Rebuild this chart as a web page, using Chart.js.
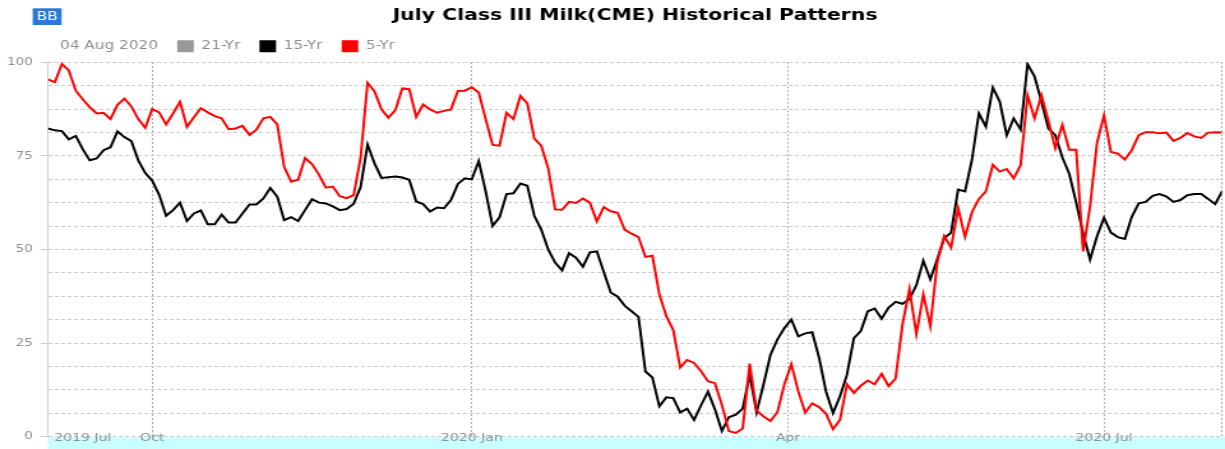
<!DOCTYPE html>
<html>
<head>
<meta charset="utf-8">
<script src="https://cdn.jsdelivr.net/npm/chart.js@4"></script>
<style>
  html, body { margin: 0; padding: 0; background: #fff; }
</style>
</head>
<body>
<!-- the chart is drawn 960 wide and shown stretched to 1225, like the source picture -->
<canvas id="chart" width="960" height="449" style="display:block;width:1225px;height:449px"></canvas>
<script>
const chartTitle = 'July Class III Milk(CME) Historical Patterns';
const asOf = '04 Aug 2020';

// one value every 2 days, day 0 = 01 Sep 2019, last = 04 Aug 2020
const dayStep = 2;

const yr21 = [];

const yr15 = [
  82.3, 81.8, 81.6, 79.4, 80.3, 76.8, 73.8, 74.3, 76.5, 77.3,
  81.5, 80.0, 78.9, 73.8, 70.4, 68.4, 64.6, 59.0, 60.5, 62.5,
  57.6, 59.6, 60.4, 56.7, 56.7, 59.3, 57.2, 57.2, 59.6, 62.0,
  62.0, 63.6, 66.4, 64.1, 57.8, 58.6, 57.6, 60.5, 63.4, 62.5,
  62.3, 61.5, 60.5, 60.8, 62.2, 66.7, 78.0, 73.0, 69.1, 69.3,
  69.5, 69.2, 68.6, 62.8, 62.1, 60.1, 61.2, 61.0, 63.2, 67.5,
  69.0, 68.7, 73.6, 65.5, 56.3, 58.6, 64.8, 65.0, 67.6, 67.0,
  59.0, 55.3, 50.0, 46.5, 44.4, 49.0, 47.8, 45.4, 49.2, 49.5,
  44.0, 38.5, 37.4, 35.0, 33.5, 32.0, 17.4, 15.8, 8.1, 10.5,
  10.3, 6.5, 7.5, 4.5, 8.4, 12.0, 7.3, 1.5, 5.2, 5.9,
  7.5, 16.5, 6.5, 14.0, 21.9, 26.0, 29.0, 31.3, 26.8, 27.6,
  27.9, 21.0, 12.0, 6.3, 10.8, 16.5, 26.3, 28.2, 33.5, 34.2,
  31.5, 34.5, 36.0, 35.5, 36.7, 40.5, 47.0, 42.0, 47.4, 53.0,
  54.5, 66.0, 65.5, 74.0, 86.3, 82.8, 93.2, 89.5, 80.5, 85.0,
  82.0, 99.5, 96.2, 89.5, 82.3, 80.5, 74.6, 70.2, 62.5, 54.2,
  47.3, 53.5, 58.5, 54.5, 53.3, 52.8, 58.7, 62.3, 62.7, 64.3,
  64.8, 64.1, 62.7, 63.2, 64.5, 64.8, 64.8, 63.5, 62.1, 65.5
];

const yr5 = [
  95.4, 94.7, 99.5, 97.8, 92.4, 90.1, 88.0, 86.3, 86.5, 84.8,
  88.6, 90.3, 88.2, 84.8, 82.5, 87.5, 86.6, 83.4, 86.3, 89.4,
  82.7, 85.3, 87.7, 86.6, 85.6, 85.0, 82.1, 82.3, 83.0, 80.6,
  82.0, 85.0, 85.4, 83.4, 72.0, 68.1, 68.6, 74.4, 72.8, 70.0,
  66.5, 66.8, 64.2, 63.7, 64.5, 74.5, 94.5, 92.2, 87.4, 85.2,
  87.2, 93.0, 92.8, 85.4, 88.7, 87.4, 86.5, 87.0, 87.4, 92.3,
  92.4, 93.3, 91.9, 84.8, 77.9, 77.7, 86.5, 84.8, 91.0, 89.0,
  79.6, 77.7, 71.7, 60.7, 60.6, 62.7, 62.4, 63.6, 62.5, 57.5,
  61.3, 60.2, 59.8, 55.3, 54.2, 53.3, 48.0, 48.3, 38.0, 32.2,
  28.5, 18.5, 20.5, 19.7, 17.5, 14.8, 14.3, 8.5, 1.5, 1.0,
  2.2, 19.5, 7.0, 5.4, 4.2, 6.6, 14.0, 19.4, 12.1, 6.4,
  8.9, 7.9, 6.1, 2.0, 4.5, 14.0, 11.7, 13.6, 15.0, 14.0,
  16.8, 13.5, 15.5, 30.0, 39.5, 27.4, 38.0, 29.5, 46.5, 53.6,
  50.5, 61.0, 53.4, 60.0, 63.5, 65.5, 72.6, 70.8, 71.5, 69.0,
  72.5, 91.2, 85.0, 91.2, 84.3, 77.0, 83.3, 76.6, 76.6, 49.5,
  61.6, 78.5, 85.8, 76.0, 75.6, 74.0, 76.5, 80.5, 81.3, 81.3,
  81.0, 81.2, 79.0, 79.8, 81.1, 80.2, 79.8, 81.2, 81.3, 81.2
];

const tickDays = [10, 30, 122, 213, 304, 338];
const tickNames = ['2019 Jul', 'Oct', '2020 Jan', 'Apr', '2020 Jul', ''];
const yLabelStep = 25;

const fontFamily = '"DejaVu Sans", Verdana, sans-serif';
const textGray = '#8f8f8f';

const toPoints = vals => vals.map((v, i) => ({ x: i * dayStep, y: v }));

const band = {
  id: 'band',
  beforeDraw(chart) {
    const { ctx, chartArea } = chart;
    ctx.save();
    ctx.fillStyle = '#c8ffff';
    ctx.fillRect(chartArea.left, chartArea.bottom + 0.5, chart.width - chartArea.left, chart.height - chartArea.bottom);
    ctx.restore();
  }
};

const badge = {
  id: 'badge',
  afterDraw(chart) {
    const ctx = chart.ctx;
    ctx.save();
    ctx.fillStyle = '#2a7ad5';
    ctx.fillRect(25.6, 8.3, 22.7, 16.7);
    ctx.fillStyle = '#ffffff';
    ctx.font = '12px ' + fontFamily;
    ctx.textAlign = 'center';
    ctx.textBaseline = 'middle';
    ctx.fillText('BB', 37, 17);
    ctx.restore();
  }
};

// legend starts a little in from the left; x tick labels rise over the zero line
const nudge = {
  id: 'nudge',
  afterLayout(chart) {
    chart.legend.left += 13;
    chart.scales.x.top -= 6;
  }
};

const canvas = document.getElementById('chart');

new Chart(canvas, {
  type: 'line',
  data: {
    datasets: [
      { label: '5-Yr', data: toPoints(yr5), borderColor: '#ff0000', backgroundColor: '#ff0000', order: 0 },
      { label: '15-Yr', data: toPoints(yr15), borderColor: '#000000', backgroundColor: '#000000', order: 1 },
      { label: '21-Yr', data: toPoints(yr21), borderColor: '#999999', backgroundColor: '#999999', order: 2 }
    ]
  },
  options: {
    responsive: false,
    animation: false,
    devicePixelRatio: 1,
    layout: { padding: { left: 0, right: 2.3, top: 0, bottom: 0 } },
    elements: {
      line: { borderWidth: 2, tension: 0 },
      point: { radius: 0 }
    },
    plugins: {
      title: {
        display: true,
        text: chartTitle,
        fullSize: false,
        color: '#000000',
        font: { family: fontFamily, size: 16, weight: 'bold' },
        padding: { top: 6, bottom: 0 }
      },
      legend: {
        position: 'top',
        align: 'start',
        onClick: null,
        labels: {
          boxWidth: 13,
          boxHeight: 12,
          padding: 15,
          color: textGray,
          font: { family: fontFamily, size: 12 },
          generateLabels: () => [
            { text: asOf, fillStyle: 'rgba(0,0,0,0)', strokeStyle: 'rgba(0,0,0,0)', lineWidth: 0, fontColor: textGray },
            { text: '21-Yr', fillStyle: '#999999', strokeStyle: '#999999', lineWidth: 0, fontColor: textGray },
            { text: '15-Yr', fillStyle: '#000000', strokeStyle: '#000000', lineWidth: 0, fontColor: textGray },
            { text: '5-Yr', fillStyle: '#ff0000', strokeStyle: '#ff0000', lineWidth: 0, fontColor: textGray }
          ]
        }
      },
      tooltip: { enabled: false }
    },
    scales: {
      x: {
        type: 'linear',
        min: 0,
        max: 338,
        afterBuildTicks: s => { s.ticks = tickDays.map(d => ({ value: d })); },
        afterFit: s => { s.height = 12; },
        border: { display: false, dash: [2, 2] },
        grid: {
          color: c => (c.tick && c.tick.value === tickDays[0]) ? 'rgba(0,0,0,0)' : '#a8a8a8',
          drawTicks: false
        },
        ticks: {
          autoSkip: false,
          maxRotation: 0,
          padding: 2,
          color: textGray,
          font: { family: fontFamily, size: 11, lineHeight: 1 },
          callback: v => tickNames[tickDays.indexOf(v)] || ''
        }
      },
      y: {
        min: 0,
        max: 100,
        afterFit: s => { s.width = 37.6; },
        border: { display: true, color: '#cccccc', width: 1, dash: [3, 2] },
        grid: {
          color: '#cccccc',
          tickLength: 6,
          tickColor: c => (c.tick && c.tick.value % yLabelStep === 0) ? '#cccccc' : 'rgba(0,0,0,0)'
        },
        ticks: {
          stepSize: 6.25,
          maxTicksLimit: 20,
          autoSkip: false,
          padding: 6,
          color: textGray,
          font: { family: fontFamily, size: 10.5 },
          callback: v => (v % yLabelStep === 0 ? v : '')
        }
      }
    }
  },
  plugins: [band, badge, nudge]
});

canvas.style.width = '1225px';
canvas.style.height = '449px';
</script>
</body>
</html>
